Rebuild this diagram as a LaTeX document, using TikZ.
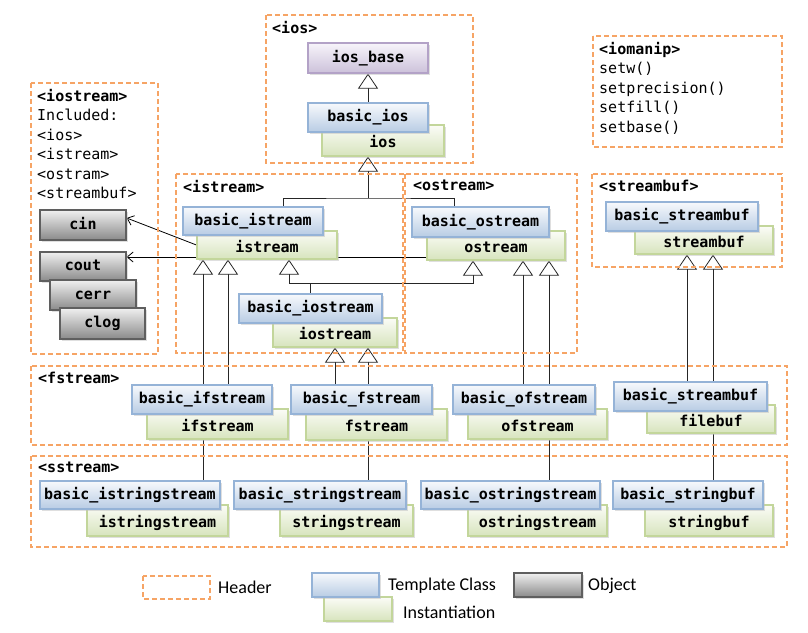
\documentclass[tikz,border=0pt]{standalone}
\usepackage{fontspec}
\setmonofont{DejaVu Sans Mono}
\newfontfamily\legendfont{Carlito}
\usetikzlibrary{arrows.meta,shadows,backgrounds}

\definecolor{hdrorange}{HTML}{F6A465}
\definecolor{tmplborder}{HTML}{95B3D7}
\definecolor{tmpltop}{HTML}{F7F9FC}
\definecolor{tmplbottom}{HTML}{B8CCE4}
\definecolor{instborder}{HTML}{C3D69B}
\definecolor{insttop}{HTML}{FBFCF7}
\definecolor{instbottom}{HTML}{D7E4BD}
\definecolor{basetop}{HTML}{F7F4FA}
\definecolor{basebottom}{HTML}{CCC1DA}
\definecolor{baseborder}{HTML}{B3A2C7}
\definecolor{objtop}{HTML}{F0F0F0}
\definecolor{objbottom}{HTML}{8A8A8A}
\definecolor{objborder}{HTML}{5F5F5F}

\tikzset{
  box/.style={rectangle, inner sep=0pt, line width=1.2pt,
    font=\ttfamily\bfseries\fontsize{15}{18}\selectfont, text height=11pt, text depth=3pt,
    drop shadow={shadow xshift=2pt, shadow yshift=-2pt, fill=black!25}},
  tmpl/.style={box, draw=tmplborder, top color=tmpltop, bottom color=tmplbottom},
  inst/.style={box, draw=instborder, top color=insttop, bottom color=instbottom, text height=17pt},
  iosbase/.style={box, draw=baseborder, top color=basetop, bottom color=basebottom},
  object/.style={box, draw=objborder, top color=objtop, bottom color=objbottom},
  header/.style={draw=hdrorange, line width=1.3pt, dash pattern=on 5pt off 3pt},
  hdrtext/.style={anchor=north west, inner sep=0pt, align=left,
    font=\ttfamily\fontsize{15}{19.5}\selectfont},
  inherit/.style={draw=black!85, line width=0.8pt, -{Triangle[length=15pt, width=20pt, fill=white]}},
  uses/.style={draw=black, line width=0.8pt, -{Straight Barb[length=6pt, width=10pt]}},
  legend/.style={anchor=west, inner sep=0pt, font=\legendfont\fontsize{18}{20}\selectfont}
}

\begin{document}
\begin{tikzpicture}[x=1pt,y=-1pt]
\useasboundingbox (0,0) rectangle (808,632);

% headers
\draw[header] (266,15) rectangle (473,163);
\node[hdrtext] (hios) at (272,21) {\textbf{<ios>}};
\draw[header] (31,83) rectangle (158,354);
\node[hdrtext] (hiostream) at (37,89) {\textbf{<iostream>}\\Included:\\<ios>\\<istream>\\<ostram>\\<streambuf>};
\draw[header] (593,36) rectangle (782,147);
\node[hdrtext] (hiomanip) at (599,42) {\textbf{<iomanip>}\\setw()\\setprecision()\\setfill()\\setbase()};
\draw[header] (176,174) rectangle (403,353);
\node[hdrtext] (histream) at (183,180) {\textbf{<istream>}};
\draw[header] (405,174) rectangle (577,353);
\node[hdrtext] (hostream) at (413,180) {\textbf{<ostream>}};
\draw[header] (592,174) rectangle (782,267);
\node[hdrtext] (hstreambuf) at (599,180) {\textbf{<streambuf>}};
\draw[header] (31,366) rectangle (787,445);
\node[hdrtext] (hfstream) at (38,372) {\textbf{<fstream>}};
\draw[header] (31,456) rectangle (787,547);
\node[hdrtext] (hsstream) at (38,462) {\textbf{<sstream>}};

% ios
\node[iosbase, minimum width=120pt, minimum height=30pt] (iosbase) at (368,58) {ios\_base};
\node[inst, minimum width=122pt, minimum height=31pt] (ios) at (383,140.5) {ios};
\node[tmpl, minimum width=120pt, minimum height=29pt] (bios) at (368,117.5) {basic\_ios};

% istream, ostream, iostream, streambuf
\node[inst, minimum width=140pt, minimum height=28pt] (istream) at (267,245) {istream};
\node[tmpl, minimum width=140pt, minimum height=28pt] (bistream) at (253,221) {basic\_istream};
\node[inst, minimum width=138pt, minimum height=29pt] (ostream) at (496,245.5) {ostream};
\node[tmpl, minimum width=137pt, minimum height=30pt] (bostream) at (480.5,222) {basic\_ostream};
\node[inst, minimum width=124pt, minimum height=29pt] (iostream) at (335,332.5) {iostream};
\node[tmpl, minimum width=143pt, minimum height=29pt] (biostream) at (310.5,308.5) {basic\_iostream};
\node[inst, minimum width=138pt, minimum height=28pt] (streambuf) at (704,240) {streambuf};
\node[tmpl, minimum width=152pt, minimum height=29pt] (bstreambuf) at (682,216.5) {basic\_streambuf};

% objects
\node[object, minimum width=86pt, minimum height=30pt] (cin) at (83,225) {cin};
\node[object, minimum width=86pt, minimum height=29pt] (cout) at (83,266.5) {cout};
\node[object, minimum width=86pt, minimum height=30pt] (cerr) at (93,295) {cerr};
\node[object, minimum width=85pt, minimum height=31pt] (clog) at (102.5,323.5) {clog};

% fstream
\node[inst, minimum width=141pt, minimum height=30pt] (ifstream) at (217.5,424) {ifstream};
\node[tmpl, minimum width=140pt, minimum height=29pt] (bifstream) at (202,399.5) {basic\_ifstream};
\node[inst, minimum width=141pt, minimum height=31pt] (fstream) at (376.5,424.5) {fstream};
\node[tmpl, minimum width=141pt, minimum height=29pt] (bfstream) at (361.5,399.5) {basic\_fstream};
\node[inst, minimum width=139pt, minimum height=30pt] (ofstream) at (537.5,424) {ofstream};
\node[tmpl, minimum width=142pt, minimum height=29pt] (bofstream) at (524,399.5) {basic\_ofstream};
\node[inst, minimum width=128pt, minimum height=28pt] (filebuf) at (711,419) {filebuf};
\node[tmpl, minimum width=153pt, minimum height=29pt] (bfilebuf) at (690.5,396.5) {basic\_streambuf};

% sstream
\node[inst, minimum width=141pt, minimum height=31pt] (istringstream) at (157.5,520.5) {istringstream};
\node[tmpl, minimum width=180pt, minimum height=28pt] (bistringstream) at (130,495) {basic\_istringstream};
\node[inst, minimum width=133pt, minimum height=31pt] (stringstream) at (346.5,520.5) {stringstream};
\node[tmpl, minimum width=172pt, minimum height=28pt] (bstringstream) at (320,495) {basic\_stringstream};
\node[inst, minimum width=139pt, minimum height=31pt] (ostringstream) at (537.5,520.5) {ostringstream};
\node[tmpl, minimum width=179pt, minimum height=28pt] (bostringstream) at (510.5,495) {basic\_ostringstream};
\node[inst, minimum width=128pt, minimum height=31pt] (stringbuf) at (709,520.5) {stringbuf};
\node[tmpl, minimum width=150pt, minimum height=28pt] (bstringbuf) at (688,495) {basic\_stringbuf};

% connectors
\begin{scope}[on background layer]
  \draw[inherit] (bios) -- (iosbase);
  \coordinate (ioJoin) at (368,198);
  \draw[inherit] (ioJoin) -- (bios |- ios.south);
  \draw[draw=black!85, line width=0.8pt] ([xshift=30pt]bistream.north) |- (ioJoin) -| ([xshift=-26.5pt]bostream.north);
  \draw[draw=black!85, line width=0.8pt] (biostream.north) -- ++(0,-10) coordinate (iosJoin);
  \path ([xshift=22pt]istream.south) coordinate (isTip) ([xshift=-23pt]ostream.south) coordinate (osTip);
  \draw[inherit] (iosJoin) -| (isTip);
  \draw[inherit] (iosJoin) -| (osTip);
  \draw[uses] (istream.west) -- ([yshift=7pt]cin.east);
  \path ([yshift=-11.5pt]ostream.west) coordinate (coutFrom);
  \draw[uses] (coutFrom) -- (coutFrom -| cout.east);
  \foreach \src/\dx/\dst in {bistringstream/73/istream, bifstream/26/istream,
      bstringstream/48/iostream, bfstream/-26.5/iostream, bofstream/-1/ostream,
      bostringstream/38.5/ostream, bfilebuf/-3.5/streambuf, bstringbuf/25/streambuf}
  {
    \path ([xshift=\dx pt]\src.north) coordinate (from);
    \draw[inherit] (from) -- (from |- \dst.south);
  }
\end{scope}

% legend
\draw[header] (143,576) rectangle (210,599);
\node[legend] (lgHeader) at (218,587) {Header};
\node[inst, minimum width=68pt, minimum height=24pt] (lgInst) at (358,609) {};
\node[tmpl, minimum width=67pt, minimum height=24pt] (lgTmpl) at (345.5,585) {};
\node[legend] (lgTmplText) at (388,586) {Template Class};
\node[legend] (lgInstText) at (403,612) {Instantiation};
\node[object, minimum width=68pt, minimum height=24pt] (lgObj) at (548,585) {};
\node[legend] (lgObjText) at (588,586) {Object};
\end{tikzpicture}
\end{document}
